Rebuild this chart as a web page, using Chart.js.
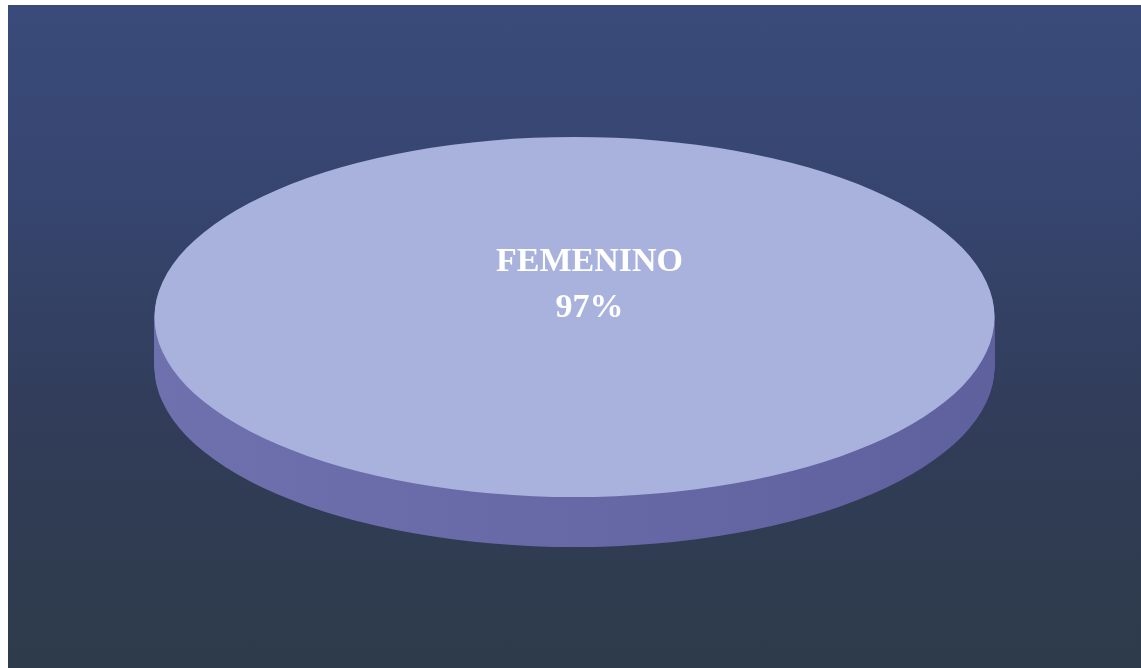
<!DOCTYPE html>
<html>
<head>
<meta charset="utf-8">
<script src="https://cdn.jsdelivr.net/npm/chart.js@4/dist/chart.umd.min.js"></script>
<style>
html,body{margin:0;padding:0;background:#ffffff;}
#wrap{
position:absolute;left:8px;top:5px;width:1133px;height:663px;
background:linear-gradient(180deg,#3a4a7a 0%,#36456f 30%,#313d5a 60%,#2e3b4a 100%);
}
canvas{display:block;}
</style>
</head>
<body>
<div id="wrap"><canvas id="pie" width="1133" height="663"></canvas></div>
<script>
/* data */
const categories = ["FEMENINO"];
const values = [97];
const pctLabels = ["97%"];

/* look */
const topColor = "#a9b2dc";
const sideLeft = "#6e71ae";
const sideRight = "#5f619e";
const RX = 420;     // ellipse half width on screen
const RY = 180;     // ellipse half height on screen
const DEPTH = 50;   // thickness of the pie

/* -----------------------------
   3D TILT PLUGIN
------------------------------ */
const pie3d = {
id:"pie3d",
beforeDatasetsDraw(chart){
let ctx = chart.ctx;
let meta = chart.getDatasetMeta(0);
let first = meta.data[0];
let cx = first.x, cy = first.y, r = first.outerRadius;
let sx = RX/r, sy = RY/r;

// side wall
for(let d=DEPTH; d>0; d--){
ctx.save();
ctx.translate(cx, cy+d);
ctx.scale(sx, sy);
let g = ctx.createLinearGradient(-r,0,r,0);
g.addColorStop(0, sideLeft);
g.addColorStop(1, sideRight);
meta.data.forEach(arc=>{
ctx.beginPath();
ctx.moveTo(0,0);
ctx.arc(0,0,r,arc.startAngle,arc.endAngle);
ctx.closePath();
ctx.fillStyle = g;
ctx.fill();
});
ctx.restore();
}

// squash the top face
ctx.save();
ctx.translate(cx, cy);
ctx.scale(sx, sy);
ctx.translate(-cx, -cy);
},
afterDatasetsDraw(chart){
let ctx = chart.ctx;
ctx.restore();

let meta = chart.getDatasetMeta(0);
let first = meta.data[0];
ctx.save();
ctx.fillStyle = "#ffffff";
ctx.textAlign = "center";
ctx.textBaseline = "middle";
ctx.font = 'bold 34px "Liberation Serif", serif';
categories.forEach((c,i)=>{
ctx.fillText(c, first.x+15, first.y-55);
ctx.fillText(pctLabels[i], first.x+15, first.y-9);
});
ctx.restore();
}
};

/* -----------------------------
   CHART
------------------------------ */
new Chart(document.getElementById("pie"),{
type:"pie",
data:{
labels:categories,
datasets:[{
data:values,
backgroundColor:[topColor],
borderWidth:0
}]
},
options:{
responsive:false,
animation:false,
events:[],
layout:{padding:{top:0,bottom:39,left:0,right:0}},
plugins:{
legend:{display:false},
tooltip:{enabled:false}
}
},
plugins:[pie3d]
});
</script>
</body>
</html>
